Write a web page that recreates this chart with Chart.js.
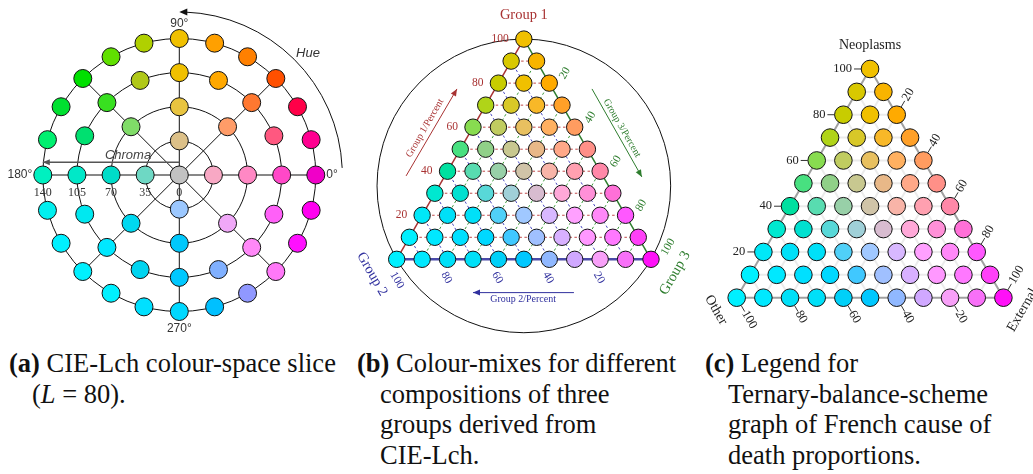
<!DOCTYPE html>
<html>
<head>
<meta charset="utf-8">
<script src="https://cdn.jsdelivr.net/npm/chart.js@4.4.0/dist/chart.umd.min.js"></script>
<style>
  body { margin: 0; background: #fff; width: 1033px; height: 474px; overflow: hidden; position: relative; }
  canvas { position: absolute; top: 0; }
  .cap { position: absolute; top: 348px; font-family: "Liberation Serif", serif; font-size: 26.5px;
         line-height: 30.5px; color: #111; white-space: nowrap; }
  .cap .ind { padding-left: 23px; }
</style>
</head>
<body>
<canvas id="lch" width="345" height="340" style="left:0"></canvas>
<canvas id="mix" width="345" height="340" style="left:345px"></canvas>
<canvas id="legend" width="343" height="340" style="left:690px"></canvas>

<div class="cap" style="left:9px">
  <div><b>(a)</b> CIE-Lch colour-space slice</div>
  <div class="ind">(<i>L</i> = 80).</div>
</div>
<div class="cap" style="left:357px">
  <div><b>(b)</b> Colour-mixes for different</div>
  <div class="ind">compositions of three</div>
  <div class="ind">groups derived from</div>
  <div class="ind">CIE-Lch.</div>
</div>
<div class="cap" style="left:705px">
  <div><b>(c)</b> Legend for</div>
  <div class="ind">Ternary-balance-scheme</div>
  <div class="ind">graph of French cause of</div>
  <div class="ind">death proportions.</div>
</div>

<script>
// ---- (a) CIE-Lch slice at L = 80 ----
var ringChroma = [35, 70, 105, 140];
var hues0 = [0];
var hues35 = [0, 90, 180, 270];
var hues70 = [0, 45, 90, 135, 180, 225, 270, 315];
var hues105 = [0, 22.5, 45, 67.5, 90, 112.5, 135, 157.5, 180, 202.5, 225, 247.5, 270, 292.5, 315, 337.5];
var hues140 = [0, 15, 30, 45, 60, 75, 90, 105, 120, 135, 150, 165, 180, 195, 210, 225, 240, 255, 270, 285, 300, 315, 330, 345];
var colors0 = ['#c2c2c2'];
var colors35 = ['#f8a8c4', '#dcc088', '#6ed8c4', '#9cc8ff'];
var colors70 = ['#ff88c4', '#ff9c68', '#e8c440', '#80dc68', '#00dcc8', '#00d8f0', '#00c8fc', '#f0a8f8'];
var colors105 = ['#ff48c8', '#ff5880', '#ff7830', '#ffa800', '#f0c000', '#b0c818', '#38e020', '#00e070',
                 '#00e8c8', '#00e8f0', '#00e8ff', '#00d4f0', '#00c8ff', '#80b0ff', '#ff88f8', '#ff60f8'];
var colors140 = ['#f000c8', '#ff0090', '#ff0048', '#ff5000', '#ff8000', '#ffa000', '#f0c000', '#b0d000',
                 '#60e000', '#00e000', '#00e030', '#00f070', '#00f0c0', '#00f0f0', '#00f0ff', '#00f0ff',
                 '#00f0ff', '#00e0ff', '#00d8ff', '#00c0ff', '#9098ff', '#ff78f8', '#ff10ff', '#ff00f0'];
var spokeHues = [0, 45, 90, 135];
var hueTicks = [0, 90, 180, 270];
var chromaTicks = [140, 105, 70, 35, 0];

// ---- (b), (c) ternary compositions ----
var levels = [100, 90, 80, 70, 60, 50, 40, 30, 20, 10, 0];
var tickLevels = [20, 40, 60, 80, 100];
var mixColors = [
  ['#f0c000'],
  ['#d8c800', '#f8b400'],
  ['#c8cc00', '#f0c000', '#ffaa00'],
  ['#b0d418', '#d8c828', '#f8b828', '#ffa028'],
  ['#88dc50', '#c0cc60', '#e8c060', '#ffb060', '#ff9c60'],
  ['#48e080', '#90d088', '#c8c890', '#e8b888', '#ffa888', '#ff9088'],
  ['#00e0a0', '#58dcb0', '#98d0a8', '#d0c4a8', '#f8b4a8', '#ffa0b0', '#ff88a8'],
  ['#00e8d0', '#00e0d0', '#58d8d8', '#a0d0d8', '#d8bcd0', '#ffa8d8', '#ff90d8', '#ff70d8'],
  ['#00e8f8', '#00e0f8', '#00e0f8', '#50d0f8', '#a0c8ff', '#d8b8ff', '#ffa0ff', '#ff88f8', '#ff58ff'],
  ['#00f0ff', '#00e8ff', '#00e0ff', '#00d8ff', '#40c8ff', '#a0c0ff', '#d8b0ff', '#ff98ff', '#ff78ff', '#ff40f8'],
  ['#00f0ff', '#00e8ff', '#00e0f8', '#00e0f8', '#00d0f8', '#00c8ff', '#90b8ff', '#d0a8ff', '#f8a0f8', '#f870f8', '#ff10f8']
];
var groupNames = ['Group 1', 'Group 2', 'Group 3'];
var causeNames = ['Neoplasms', 'Other', 'External'];

var SERIF = '"Liberation Serif", serif';
var SANS = '"Liberation Sans", sans-serif';
var RAD = Math.PI / 180;

function polar(c, h) {
  return { x: c * Math.cos(h * RAD), y: c * Math.sin(h * RAD) };
}
// p1 = top group, p3 = right group, p2 = the rest
function tern(p1, p3) {
  return { x: p3 + p1 / 2, y: p1 * Math.sqrt(3) / 2 };
}
function ternData() {
  var pts = [];
  levels.forEach(function (p1, r) {
    for (var j = 0; j <= r; j++) pts.push(tern(p1, levels[10 - j]));
  });
  return pts;
}

function text(ctx, str, x, y, font, color, align, rot) {
  ctx.save();
  ctx.translate(x, y);
  if (rot) ctx.rotate(rot);
  ctx.font = font;
  ctx.fillStyle = color;
  ctx.textAlign = align || 'center';
  ctx.textBaseline = 'middle';
  ctx.fillText(str, 0, 0);
  ctx.restore();
}
function head(ctx, x, y, ang, len, half) {
  ctx.beginPath();
  ctx.moveTo(x, y);
  ctx.lineTo(x - len * Math.cos(ang) - half * Math.sin(ang), y - len * Math.sin(ang) + half * Math.cos(ang));
  ctx.lineTo(x - len * Math.cos(ang) + half * Math.sin(ang), y - len * Math.sin(ang) - half * Math.cos(ang));
  ctx.closePath();
  ctx.fill();
}
function arrow(ctx, x1, y1, x2, y2, color, w) {
  ctx.save();
  ctx.strokeStyle = color; ctx.fillStyle = color; ctx.lineWidth = w;
  ctx.beginPath(); ctx.moveTo(x1, y1); ctx.lineTo(x2, y2); ctx.stroke();
  head(ctx, x2, y2, Math.atan2(y2 - y1, x2 - x1), 7, 3);
  ctx.restore();
}
function segment(ctx, sx, sy, a, b) {
  ctx.beginPath();
  ctx.moveTo(sx.getPixelForValue(a.x), sy.getPixelForValue(a.y));
  ctx.lineTo(sx.getPixelForValue(b.x), sy.getPixelForValue(b.y));
  ctx.stroke();
}

function baseOptions(xmin, xmax, ymin, ymax) {
  return {
    responsive: false,
    animation: false,
    devicePixelRatio: 1,
    events: [],
    layout: { padding: 0, autoPadding: false },
    plugins: { legend: { display: false }, tooltip: { enabled: false } },
    scales: {
      x: { type: 'linear', display: false, min: xmin, max: xmax },
      y: { type: 'linear', display: false, min: ymin, max: ymax }
    }
  };
}

// ================= (a) =================
var lchPoints = [], lchColors = [];
[[0, hues0, colors0], [35, hues35, colors35], [70, hues70, colors70],
 [105, hues105, colors105], [140, hues140, colors140]].forEach(function (ring) {
  ring[1].forEach(function (h, i) {
    lchPoints.push(polar(ring[0], h));
    lchColors.push(ring[2][i]);
  });
});

var lchGuides = {
  id: 'lchGuides',
  beforeDatasetsDraw: function (chart) {
    var ctx = chart.ctx, sx = chart.scales.x, sy = chart.scales.y;
    var cx = sx.getPixelForValue(0), cy = sy.getPixelForValue(0);
    var cMax = ringChroma[ringChroma.length - 1];
    ctx.save();
    ctx.strokeStyle = '#111'; ctx.lineWidth = 1;
    ringChroma.forEach(function (c) {
      ctx.beginPath();
      ctx.arc(cx, cy, sx.getPixelForValue(c) - cx, 0, Math.PI * 2);
      ctx.stroke();
    });
    spokeHues.forEach(function (h) {
      segment(ctx, sx, sy, polar(cMax, h), polar(cMax, h + 180));
    });
    // chroma arrow
    arrow(ctx, cx, sy.getPixelForValue(13), sx.getPixelForValue(-cMax), sy.getPixelForValue(13), '#555', 1.5);
    // hue arc
    var R = sx.getPixelForValue(167.2) - cx;
    ctx.beginPath();
    ctx.arc(cx, cy, R, -2.5 * RAD, -88 * RAD, true);
    ctx.stroke();
    ctx.fillStyle = '#111';
    head(ctx, cx, cy - R, Math.PI, 8, 3.5);
    ctx.restore();
  },
  afterDatasetsDraw: function (chart) {
    var ctx = chart.ctx, sx = chart.scales.x, sy = chart.scales.y;
    var cMax = ringChroma[ringChroma.length - 1];
    var f = '12px ' + SANS, col = '#333';
    text(ctx, hueTicks[0] + '°', sx.getPixelForValue(cMax) + 10.5, sy.getPixelForValue(0), f, col, 'left');
    text(ctx, hueTicks[1] + '°', sx.getPixelForValue(0), sy.getPixelForValue(cMax) - 15, f, col, 'center');
    text(ctx, hueTicks[2] + '°', sx.getPixelForValue(-cMax) - 10.5, sy.getPixelForValue(0), f, col, 'right');
    text(ctx, hueTicks[3] + '°', sx.getPixelForValue(0), sy.getPixelForValue(-cMax) + 17, f, col, 'center');
    chromaTicks.forEach(function (c) {
      text(ctx, String(c), sx.getPixelForValue(-c), sy.getPixelForValue(0) + 18, '12px ' + SERIF, col, 'center');
    });
    text(ctx, 'Chroma', sx.getPixelForValue(-52.6), sy.getPixelForValue(20.5), 'italic 13px ' + SANS, '#444', 'center');
    text(ctx, 'Hue', sx.getPixelForValue(132), sy.getPixelForValue(125), 'italic 13px ' + SANS, '#333', 'center');
  }
};

new Chart(document.getElementById('lch'), {
  type: 'scatter',
  data: { datasets: [{ data: lchPoints, backgroundColor: lchColors, borderColor: '#111',
    borderWidth: 1, pointRadius: 9, pointHoverRadius: 9, clip: false }] },
  options: baseOptions(-183.9, 169.95, -169.23, 179.49),
  plugins: [lchGuides]
});

// ================= (b) =================
var flatMix = [].concat.apply([], mixColors);
var inner = levels.filter(function (v) { return v > 0 && v < 100; });
var RED = '#a83232', BLUE = '#30309e', GREEN = '#2e7d2e';

var mixGuides = {
  id: 'mixGuides',
  beforeDatasetsDraw: function (chart) {
    var ctx = chart.ctx, sx = chart.scales.x, sy = chart.scales.y;
    var c = tern(100 / 3, 100 / 3), top = tern(100, 0);
    var cx = sx.getPixelForValue(c.x), cy = sy.getPixelForValue(c.y);
    ctx.save();
    ctx.strokeStyle = '#111'; ctx.lineWidth = 1;
    ctx.beginPath();
    ctx.arc(cx, cy, cy - sy.getPixelForValue(top.y), 0, Math.PI * 2);
    ctx.stroke();
    ctx.setLineDash([2.5, 2.5]);
    inner.forEach(function (v) {
      ctx.strokeStyle = '#c04848'; segment(ctx, sx, sy, tern(v, 0), tern(v, 100 - v));
      ctx.strokeStyle = '#4848c0'; segment(ctx, sx, sy, tern(100 - v, 0), tern(0, 100 - v));
      ctx.strokeStyle = '#3c9a3c'; segment(ctx, sx, sy, tern(0, v), tern(100 - v, v));
    });
    ctx.setLineDash([]);
    ctx.lineWidth = 1.5;
    ctx.strokeStyle = RED; segment(ctx, sx, sy, tern(0, 0), tern(100, 0));
    ctx.strokeStyle = GREEN; segment(ctx, sx, sy, tern(100, 0), tern(0, 100));
    ctx.lineWidth = 2.5;
    ctx.strokeStyle = '#4a4aa8'; segment(ctx, sx, sy, tern(0, 0), tern(0, 100));
    ctx.restore();
  },
  afterDatasetsDraw: function (chart) {
    var ctx = chart.ctx, sx = chart.scales.x, sy = chart.scales.y;
    function P(p) { return { x: sx.getPixelForValue(p.x), y: sy.getPixelForValue(p.y) }; }
    var f = '11.5px ' + SERIF;
    tickLevels.forEach(function (v) {
      var a = P(tern(v, 0));
      text(ctx, String(v), a.x - 15, a.y, f, RED, 'right');
      var b = P(tern(100 - v, v));
      text(ctx, String(v), b.x + 12.8, b.y - 4.8, f, GREEN, 'left', -60 * RAD);
      var c = P(tern(0, 100 - v));
      text(ctx, String(v), c.x - 4, c.y + 13.5, f, BLUE, 'left', 60 * RAD);
    });
    var top = P(tern(100, 0)), bl = P(tern(0, 0)), br = P(tern(0, 100));
    var gf = '14.5px ' + SERIF;
    text(ctx, groupNames[0], top.x, top.y - 24, gf, RED, 'center');
    text(ctx, groupNames[1], bl.x - 24.7, bl.y + 14.7, gf, BLUE, 'center', 60 * RAD);
    text(ctx, groupNames[2], br.x + 24, br.y + 13.7, gf, GREEN, 'center', -60 * RAD);

    var tf = '10px ' + SERIF;
    var q = P({ x: 11.1, y: 51.6 });
    text(ctx, groupNames[0] + '/Percent', q.x, q.y, tf, RED, 'center', -60 * RAD);
    var a1 = P({ x: 3.7, y: 32.8 }), a2 = P({ x: 23.7, y: 67.0 });
    arrow(ctx, a1.x, a1.y, a2.x, a2.y, RED, 1);
    q = P({ x: 88.6, y: 51.6 });
    text(ctx, groupNames[2] + '/Percent', q.x, q.y, tf, GREEN, 'center', 60 * RAD);
    a1 = P({ x: 76.8, y: 67.0 }); a2 = P({ x: 96.4, y: 32.4 });
    arrow(ctx, a1.x, a1.y, a2.x, a2.y, GREEN, 1);
    q = P({ x: 49.7, y: -15.8 });
    text(ctx, groupNames[1] + '/Percent', q.x, q.y, tf, BLUE, 'center');
    a1 = P({ x: 69.7, y: -13.1 }); a2 = P({ x: 30.0, y: -13.1 });
    arrow(ctx, a1.x, a1.y, a2.x, a2.y, BLUE, 1);
  }
};

new Chart(document.getElementById('mix'), {
  type: 'scatter',
  data: { datasets: [{ data: ternData(), backgroundColor: flatMix, borderColor: '#111',
    borderWidth: 1, pointRadius: 8.2, pointHoverRadius: 8.2, clip: false }] },
  options: baseOptions(-20.33, 115.34, -31.73, 101.97),
  plugins: [mixGuides]
});

// ================= (c) =================
var legendGuides = {
  id: 'legendGuides',
  beforeDatasetsDraw: function (chart) {
    var ctx = chart.ctx, sx = chart.scales.x, sy = chart.scales.y;
    ctx.save();
    ctx.lineWidth = 2;
    ctx.strokeStyle = '#ebebeb';
    inner.forEach(function (v) {
      segment(ctx, sx, sy, tern(v, 0), tern(v, 100 - v));
      segment(ctx, sx, sy, tern(100 - v, 0), tern(0, 100 - v));
      segment(ctx, sx, sy, tern(0, v), tern(100 - v, v));
    });
    ctx.strokeStyle = '#a0a0a0';
    segment(ctx, sx, sy, tern(0, 0), tern(100, 0));
    segment(ctx, sx, sy, tern(100, 0), tern(0, 100));
    segment(ctx, sx, sy, tern(0, 0), tern(0, 100));
    // ticks
    ctx.strokeStyle = '#333'; ctx.lineWidth = 1;
    var dirs = [[-1, 0], [0.5, -0.866], [0.5, 0.866]];
    tickLevels.forEach(function (v) {
      [tern(v, 0), tern(100 - v, v), tern(0, 100 - v)].forEach(function (p, k) {
        var x = sx.getPixelForValue(p.x), y = sy.getPixelForValue(p.y), d = dirs[k];
        ctx.beginPath();
        ctx.moveTo(x + d[0] * 9, y + d[1] * 9);
        ctx.lineTo(x + d[0] * 16, y + d[1] * 16);
        ctx.stroke();
      });
    });
    ctx.restore();
  },
  afterDatasetsDraw: function (chart) {
    var ctx = chart.ctx, sx = chart.scales.x, sy = chart.scales.y;
    function P(p) { return { x: sx.getPixelForValue(p.x), y: sy.getPixelForValue(p.y) }; }
    var f = '12.5px ' + SERIF, col = '#222';
    tickLevels.forEach(function (v) {
      var a = P(tern(v, 0));
      text(ctx, String(v), a.x - 18, a.y, f, col, 'right');
      var b = P(tern(100 - v, v));
      text(ctx, String(v), b.x + 0.5 * 17, b.y - 0.866 * 17, f, col, 'left', -60 * RAD);
      var c = P(tern(0, 100 - v));
      text(ctx, String(v), c.x + 0.5 * 16, c.y + 0.866 * 16, f, col, 'left', 60 * RAD);
    });
    var top = P(tern(100, 0)), bl = P(tern(0, 0)), br = P(tern(0, 100));
    var nf = '14px ' + SERIF;
    text(ctx, causeNames[0], top.x, top.y - 24, nf, col, 'center');
    text(ctx, causeNames[1], bl.x - 20.7, bl.y + 12.3, nf, col, 'center', 60 * RAD);
    text(ctx, causeNames[2], br.x + 19, br.y + 12.5, nf, col, 'center', -60 * RAD);
  }
};

new Chart(document.getElementById('legend'), {
  type: 'scatter',
  data: { datasets: [{ data: ternData(), backgroundColor: flatMix, borderColor: '#111',
    borderWidth: 1, pointRadius: 8.8, pointHoverRadius: 8.8, clip: false }] },
  options: baseOptions(-17.51, 111.1, -16.02, 112.72),
  plugins: [legendGuides]
});
</script>
</body>
</html>
